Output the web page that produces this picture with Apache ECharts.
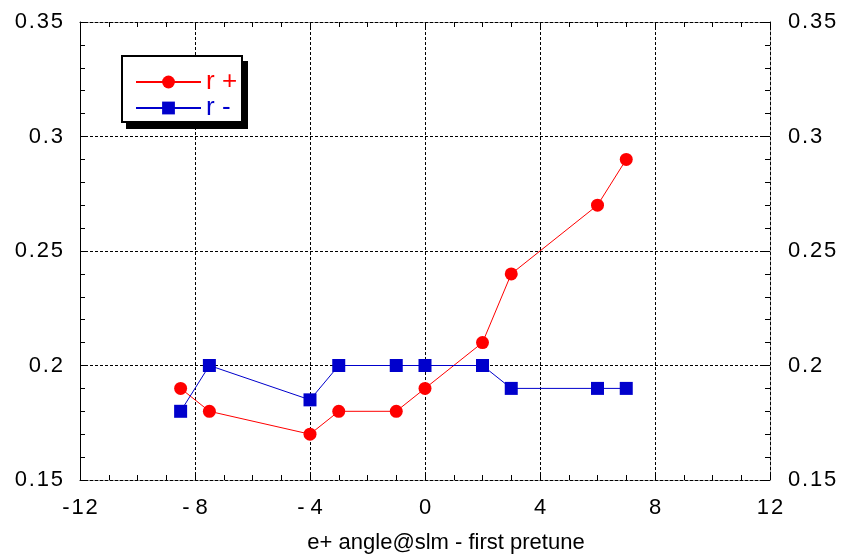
<!DOCTYPE html>
<html><head><meta charset="utf-8">
<script src="https://cdn.jsdelivr.net/npm/echarts@6/dist/echarts.min.js"></script>
<style>html,body{margin:0;padding:0;background:#fff}#c{width:845px;height:554px}</style>
</head><body><div id="c"></div>
<script>
const xValues = [-8.5, -7.5, -4, -3, -1, 0, 2, 3, 6, 7];
const rPlus  = [0.19, 0.18, 0.17, 0.18, 0.18, 0.19, 0.21, 0.24, 0.27, 0.29];
const rMinus = [0.18, 0.20, 0.185, 0.20, 0.20, 0.20, 0.20, 0.19, 0.19, 0.19];
const seriesNames = ['r +', 'r -'];
const xTitle = 'e+ angle@slm - first pretune';

const font = 'Liberation Sans, Arial, sans-serif';
const grid = {left: 80, right: 75, top: 22, bottom: 74, outerBoundsMode: 'none', containLabel: false};
const dotted = {color: '#000', width: 1, type: [3, 2]};
const TS = '\u200A';
function xLab(v){
  const a = Math.abs(v);
  const s = String(a).split('').join(TS);
  if (v < 0) return (a >= 10 ? '-' + TS : '- ') + s;
  return s;
}
function yLab(v){ return String(+v.toFixed(2)).split('').join(TS); }
const legFont = {fontFamily: 'Liberation Sans Narrow, Liberation Sans, Arial, sans-serif', fontSize: 26};

const chart = echarts.init(document.getElementById('c'), null, {renderer: 'canvas'});
chart.setOption({
  backgroundColor: '#fff',
  animation: false,
  grid: grid,
  graphic: [
    {type: 'rect', z: 10, silent: true, shape: {x: 126, y: 61, width: 122, height: 68}, style: {fill: '#000'}},
    {type: 'rect', z: 11, silent: true, shape: {x: 122, y: 56, width: 120, height: 66}, style: {fill: '#fff', stroke: '#000', lineWidth: 2}}
  ],
  legend: {
    z: 20,
    left: 135, top: 69, orient: 'vertical',
    padding: 0,
    itemWidth: 65, itemHeight: 16, itemGap: 0,
    textStyle: legFont,
    data: [
      {name: seriesNames[0], textStyle: Object.assign({color: '#ff0000'}, legFont)},
      {name: seriesNames[1], textStyle: Object.assign({color: '#0000cc'}, legFont)}
    ]
  },
  xAxis: [{
    type: 'value', min: -12, max: 12, interval: 4,
    name: xTitle, nameLocation: 'middle', nameGap: 52,
    nameTextStyle: {fontFamily: font, fontSize: 22, color: '#000', padding: [0, 0, 0, 42]},
    axisLine: {show: true, onZero: false, lineStyle: dotted},
    axisTick: {show: true, inside: true, length: 7, lineStyle: {color: '#000'}},
    minorTick: {show: true, splitNumber: 4, length: 5, lineStyle: {color: '#000'}},
    axisLabel: {formatter: xLab, fontFamily: font, fontSize: 22, color: '#000', margin: 17},
    splitLine: {show: true, lineStyle: dotted}
  }, {
    type: 'value', min: -12, max: 12, interval: 4, position: 'top',
    axisLine: {show: true, onZero: false, lineStyle: dotted},
    axisTick: {show: true, inside: true, length: 7, lineStyle: {color: '#000'}},
    minorTick: {show: true, splitNumber: 4, length: 5, lineStyle: {color: '#000'}},
    axisLabel: {show: false}, splitLine: {show: false}
  }],
  yAxis: [{
    type: 'value', min: 0.15, max: 0.35, interval: 0.05,
    axisLine: {show: true, onZero: false, lineStyle: {color: '#000', width: 1}},
    axisTick: {show: true, inside: true, length: 7, lineStyle: {color: '#000'}},
    minorTick: {show: true, splitNumber: 5, length: 5, lineStyle: {color: '#000'}},
    axisLabel: {formatter: yLab, fontFamily: font, fontSize: 22, color: '#000', margin: 17},
    splitLine: {show: true, lineStyle: dotted}
  }, {
    type: 'value', min: 0.15, max: 0.35, interval: 0.05, position: 'right',
    axisLine: {show: true, onZero: false, lineStyle: dotted},
    axisTick: {show: true, inside: true, length: 7, lineStyle: {color: '#000'}},
    minorTick: {show: true, splitNumber: 5, length: 5, lineStyle: {color: '#000'}},
    axisLabel: {formatter: yLab, fontFamily: font, fontSize: 22, color: '#000', margin: 18},
    splitLine: {show: false}
  }],
  series: [{
    name: seriesNames[0], type: 'line',
    data: xValues.map((x, i) => [x, rPlus[i]]),
    symbol: 'circle', symbolSize: 13,
    lineStyle: {color: '#ff0000', width: 1},
    itemStyle: {color: '#ff0000'}
  }, {
    name: seriesNames[1], type: 'line',
    data: xValues.map((x, i) => [x, rMinus[i]]),
    symbol: 'rect', symbolSize: 13,
    lineStyle: {color: '#0000cc', width: 1},
    itemStyle: {color: '#0000cc'}
  }]
});
</script></body></html>
